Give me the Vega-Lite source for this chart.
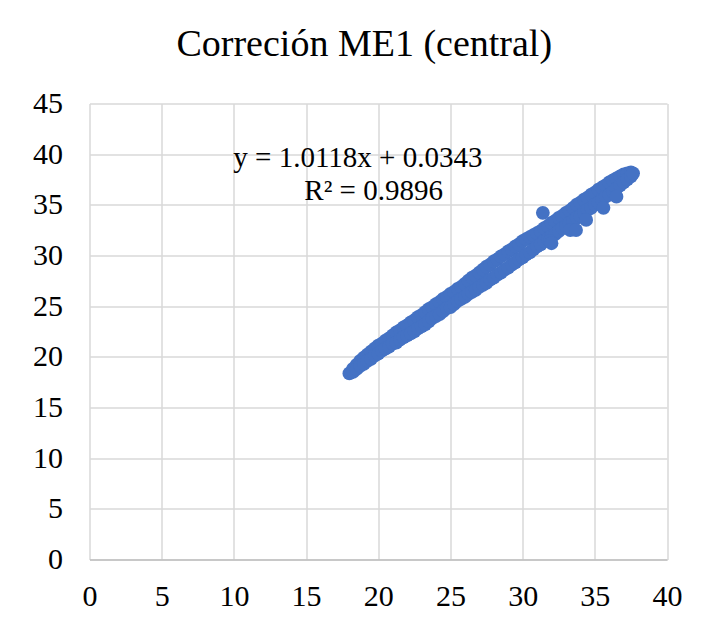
{
  "$schema": "https://vega.github.io/schema/vega-lite/v6.json",
  "autosize": {"type": "none"},
  "width": 577.5,
  "height": 456,
  "padding": {"left": 89.5, "top": 103.4, "right": 35, "bottom": 67.6},
  "background": "white",
  "title": {
    "text": "Correción ME1 (central)",
    "font": "Liberation Serif",
    "fontSize": 38,
    "fontWeight": "normal",
    "color": "#000000",
    "anchor": "middle",
    "dx": -14,
    "dy": 36,
    "baseline": "alphabetic",
    "offset": 30
  },
  "config": {
    "view": {"stroke": null},
    "axis": {
      "labelFont": "Liberation Serif",
      "labelFontSize": 30,
      "labelColor": "#000000",
      "gridColor": "#d9d9d9",
      "gridWidth": 1.5,
      "ticks": false,
      "title": null
    }
  },
  "datasets": {
    "pts": [
      {"x": 18.0, "y": 18.35},
      {"x": 18.25, "y": 18.8}, {"x": 18.25, "y": 18.5},
      {"x": 18.5, "y": 19.2}, {"x": 18.5, "y": 18.8},
      {"x": 18.75, "y": 19.6}, {"x": 18.75, "y": 19.1},
      {"x": 19.0, "y": 19.9}, {"x": 19.0, "y": 19.3},
      {"x": 19.25, "y": 20.2}, {"x": 19.25, "y": 19.6},
      {"x": 19.5, "y": 20.5}, {"x": 19.5, "y": 19.8},
      {"x": 19.75, "y": 20.8}, {"x": 19.75, "y": 20.1},
      {"x": 20.0, "y": 21.1}, {"x": 20.0, "y": 20.3},
      {"x": 20.25, "y": 21.3}, {"x": 20.25, "y": 20.6},
      {"x": 20.5, "y": 21.6}, {"x": 20.5, "y": 20.8},
      {"x": 20.75, "y": 21.8}, {"x": 20.75, "y": 21.0},
      {"x": 21.0, "y": 22.1}, {"x": 21.0, "y": 21.3},
      {"x": 21.25, "y": 22.4}, {"x": 21.25, "y": 21.4},
      {"x": 21.5, "y": 22.6}, {"x": 21.5, "y": 21.7},
      {"x": 21.75, "y": 22.9}, {"x": 21.75, "y": 21.9},
      {"x": 22.0, "y": 23.1}, {"x": 22.0, "y": 22.1},
      {"x": 22.25, "y": 23.4}, {"x": 22.25, "y": 22.3},
      {"x": 22.5, "y": 23.6}, {"x": 22.5, "y": 22.5},
      {"x": 22.75, "y": 23.9}, {"x": 22.75, "y": 22.8},
      {"x": 23.0, "y": 24.1}, {"x": 23.0, "y": 23.0},
      {"x": 23.25, "y": 24.4}, {"x": 23.25, "y": 23.2},
      {"x": 23.5, "y": 24.7}, {"x": 23.5, "y": 23.5},
      {"x": 23.75, "y": 24.9}, {"x": 23.75, "y": 23.8},
      {"x": 24.0, "y": 25.2}, {"x": 24.0, "y": 24.0},
      {"x": 24.25, "y": 25.4}, {"x": 24.25, "y": 24.2},
      {"x": 24.5, "y": 25.7}, {"x": 24.5, "y": 24.5},
      {"x": 24.75, "y": 25.9}, {"x": 24.75, "y": 24.8},
      {"x": 25.0, "y": 26.2}, {"x": 25.0, "y": 24.9},
      {"x": 25.25, "y": 26.4}, {"x": 25.25, "y": 25.2},
      {"x": 25.5, "y": 26.7}, {"x": 25.5, "y": 25.5},
      {"x": 25.75, "y": 26.9}, {"x": 25.75, "y": 25.7},
      {"x": 26.0, "y": 27.2}, {"x": 26.0, "y": 25.9},
      {"x": 26.25, "y": 27.5}, {"x": 26.25, "y": 26.2},
      {"x": 26.5, "y": 27.8}, {"x": 26.5, "y": 26.4},
      {"x": 26.75, "y": 28.0}, {"x": 26.75, "y": 26.6},
      {"x": 27.0, "y": 28.3}, {"x": 27.0, "y": 26.9},
      {"x": 27.25, "y": 28.6}, {"x": 27.25, "y": 27.1},
      {"x": 27.5, "y": 28.9}, {"x": 27.5, "y": 27.3},
      {"x": 27.75, "y": 29.1}, {"x": 27.75, "y": 27.6},
      {"x": 28.0, "y": 29.4}, {"x": 28.0, "y": 27.8},
      {"x": 28.25, "y": 29.6}, {"x": 28.25, "y": 28.1},
      {"x": 28.5, "y": 29.9}, {"x": 28.5, "y": 28.3},
      {"x": 28.75, "y": 30.1}, {"x": 28.75, "y": 28.6},
      {"x": 29.0, "y": 30.4}, {"x": 29.0, "y": 28.8},
      {"x": 29.25, "y": 30.6}, {"x": 29.25, "y": 29.1},
      {"x": 29.5, "y": 30.9}, {"x": 29.5, "y": 29.3},
      {"x": 29.75, "y": 31.1}, {"x": 29.75, "y": 29.6},
      {"x": 30.0, "y": 31.4}, {"x": 30.0, "y": 29.8},
      {"x": 30.25, "y": 31.6}, {"x": 30.25, "y": 30.1},
      {"x": 30.5, "y": 31.8}, {"x": 30.5, "y": 30.3},
      {"x": 30.75, "y": 32.0}, {"x": 30.75, "y": 30.6},
      {"x": 31.0, "y": 32.2}, {"x": 31.0, "y": 30.9},
      {"x": 31.25, "y": 32.4}, {"x": 31.25, "y": 31.1},
      {"x": 31.5, "y": 32.7}, {"x": 31.5, "y": 31.4},
      {"x": 31.75, "y": 32.9}, {"x": 31.75, "y": 31.6},
      {"x": 32.0, "y": 33.2}, {"x": 32.0, "y": 31.9},
      {"x": 32.25, "y": 33.4}, {"x": 32.25, "y": 32.1},
      {"x": 32.5, "y": 33.7}, {"x": 32.5, "y": 32.4},
      {"x": 32.75, "y": 33.9}, {"x": 32.75, "y": 32.7},
      {"x": 33.0, "y": 34.2}, {"x": 33.0, "y": 32.9},
      {"x": 33.25, "y": 34.4}, {"x": 33.25, "y": 33.2},
      {"x": 33.5, "y": 34.7}, {"x": 33.5, "y": 33.4},
      {"x": 33.75, "y": 35.0}, {"x": 33.75, "y": 33.7},
      {"x": 34.0, "y": 35.2}, {"x": 34.0, "y": 33.9},
      {"x": 34.25, "y": 35.5}, {"x": 34.25, "y": 34.2},
      {"x": 34.5, "y": 35.7}, {"x": 34.5, "y": 34.5},
      {"x": 34.75, "y": 36.0}, {"x": 34.75, "y": 34.7},
      {"x": 35.0, "y": 36.2}, {"x": 35.0, "y": 35.0},
      {"x": 35.25, "y": 36.5}, {"x": 35.25, "y": 35.2},
      {"x": 35.5, "y": 36.7}, {"x": 35.5, "y": 35.5},
      {"x": 35.75, "y": 36.9}, {"x": 35.75, "y": 35.8},
      {"x": 36.0, "y": 37.2}, {"x": 36.0, "y": 36.0},
      {"x": 36.25, "y": 37.4}, {"x": 36.25, "y": 36.3},
      {"x": 36.5, "y": 37.6}, {"x": 36.5, "y": 36.6},
      {"x": 36.75, "y": 37.8}, {"x": 36.75, "y": 36.9},
      {"x": 37.0, "y": 38.0}, {"x": 37.0, "y": 37.2},
      {"x": 37.25, "y": 38.1}, {"x": 37.25, "y": 37.5},
      {"x": 37.5, "y": 38.2}, {"x": 37.5, "y": 37.8},
      {"x": 37.65, "y": 38.1},
      {"x": 31.9, "y": 31.4}, {"x": 32.0, "y": 31.2}, {"x": 33.3, "y": 32.5}, {"x": 33.7, "y": 32.5},
      {"x": 34.4, "y": 33.5}, {"x": 35.6, "y": 34.7}, {"x": 36.5, "y": 35.8},
      {"x": 31.4, "y": 34.2}
    ],
    "notes": [
      {"x": 18.59, "y": 38.77, "t": "y = 1.0118x + 0.0343"},
      {"x": 19.68, "y": 35.48, "t": "R² = 0.9896"}
    ]
  },
  "layer": [
    {
      "data": {"name": "pts"},
      "mark": {"type": "circle", "color": "#4472C4", "opacity": 1, "size": 190},
      "encoding": {
        "x": {
          "field": "x", "type": "quantitative",
          "scale": {"domain": [0, 40], "nice": false},
          "axis": {"values": [0, 5, 10, 15, 20, 25, 30, 35, 40], "domain": true, "domainColor": "#bfbfbf", "domainWidth": 1.5, "labelPadding": 22, "labelFlush": false}
        },
        "y": {
          "field": "y", "type": "quantitative",
          "scale": {"domain": [0, 45], "nice": false},
          "axis": {"values": [0, 5, 10, 15, 20, 25, 30, 35, 40, 45], "domain": false, "labelPadding": 27, "labelFlush": false}
        }
      }
    },
    {
      "data": {"name": "notes"},
      "mark": {"type": "text", "font": "Liberation Serif", "fontSize": 29, "color": "#000000", "align": "center", "baseline": "alphabetic"},
      "encoding": {
        "x": {"field": "x", "type": "quantitative"},
        "y": {"field": "y", "type": "quantitative"},
        "text": {"field": "t"}
      }
    }
  ]
}
